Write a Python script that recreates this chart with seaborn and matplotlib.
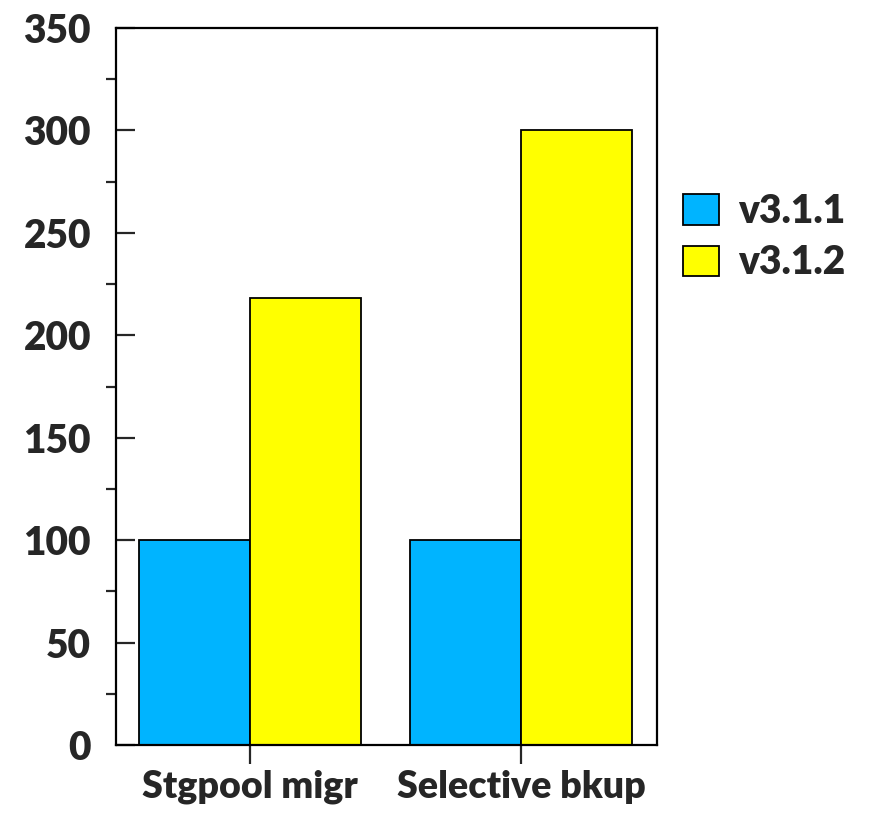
import pandas as pd
import matplotlib.pyplot as plt
import seaborn as sns
from matplotlib.ticker import MultipleLocator

# data
categories = ["Stgpool migr", "Selective bkup"]
versions = ["v3.1.1", "v3.1.2"]
v311 = [100, 100]
v312 = [218, 300]

df = pd.DataFrame({
    "task": categories * 2,
    "version": [versions[0]] * 2 + [versions[1]] * 2,
    "value": v311 + v312,
})

sns.set_style("white")
plt.rcParams["font.family"] = ["Lato", "DejaVu Sans"]
plt.rcParams["font.weight"] = "heavy"

fig = plt.figure(figsize=(8.69, 8.15), dpi=100)
ax = fig.add_axes([116 / 869, 1 - 745 / 815, (657 - 116) / 869, (745 - 28) / 815])

sns.barplot(data=df, x="task", y="value", hue="version", ax=ax,
            palette=["#00b4ff", "#ffff00"], width=0.82,
            edgecolor="black", linewidth=1.3, saturation=1)

ax.set_ylim(0, 350)
ax.set_xlim(-0.494, 1.502)
ax.set_xlabel("")
ax.set_ylabel("")

ax.yaxis.set_major_locator(MultipleLocator(50))
ax.yaxis.set_minor_locator(MultipleLocator(25))
ax.tick_params(axis="y", which="major", direction="in", length=14, width=1.6,
               labelsize=28, pad=18, left=True)
ax.tick_params(axis="y", which="minor", direction="out", length=7, width=1.6, left=True)
ax.tick_params(axis="x", which="major", direction="out", length=14, width=1.6,
               labelsize=27, pad=4, bottom=True)
for lab in ax.get_xticklabels() + ax.get_yticklabels():
    lab.set_fontweight("heavy")

for s in ax.spines.values():
    s.set_visible(True)
    s.set_color("black")
    s.set_linewidth(1.6)

handles, labels = ax.get_legend_handles_labels()
ax.legend_.remove()
fig.legend(handles, labels, loc="upper left", bbox_to_anchor=(683 / 869, 1 - 193 / 815),
           frameon=False, handlelength=0.92, handleheight=0.82,
           handletextpad=0.5, labelspacing=0.37, borderpad=0, borderaxespad=0,
           prop={"weight": "heavy", "size": 28})

fig.savefig("out.png", dpi=100)
